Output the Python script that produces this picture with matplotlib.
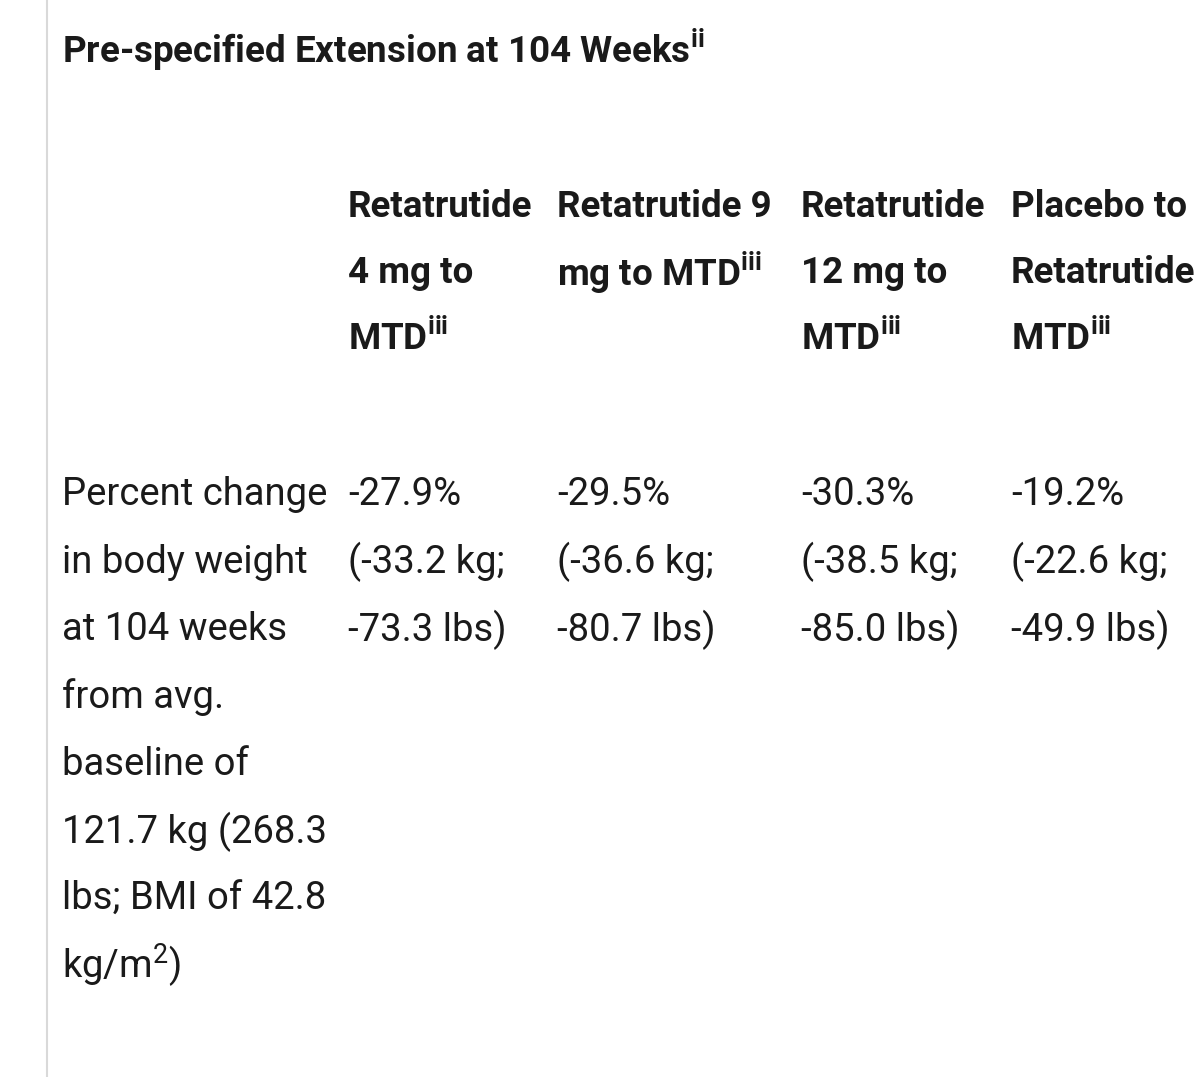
import matplotlib.pyplot as plt

plt.rcParams["font.family"] = ["Roboto", "DejaVu Sans"]
plt.rcParams["mathtext.fontset"] = "custom"
plt.rcParams["mathtext.rm"] = "Roboto"
plt.rcParams["mathtext.bf"] = "Roboto:bold"

W, H = 1200, 1077

title = r"Pre-specified Extension at 104 Weeks$^{\mathbf{ii}}$"

headers = [
    ["Retatrutide", "4 mg to", r"MTD$^{\mathbf{iii}}$"],
    ["Retatrutide 9", r"mg to MTD$^{\mathbf{iii}}$"],
    ["Retatrutide", "12 mg to", r"MTD$^{\mathbf{iii}}$"],
    ["Placebo to", "Retatrutide", r"MTD$^{\mathbf{iii}}$"],
]

row_label = ["Percent change", "in body weight", "at 104 weeks", "from avg.",
             "baseline of", "121.7 kg (268.3", "lbs; BMI of 42.8",
             r"kg/m$^{2}$)"]

pct = ["-27.9%", "-29.5%", "-30.3%", "-19.2%"]
kg = ["-33.2", "-36.6", "-38.5", "-22.6"]
lbs = ["-73.3", "-80.7", "-85.0", "-49.9"]

col_x = [348, 557, 801, 1011]

fig = plt.figure(figsize=(W / 100, H / 100), dpi=100)
fig.patch.set_facecolor("white")


def put(x, y, s, bold=False, size=27.5):
    fig.text(x / W, 1 - y / H, s, fontsize=size, va="center", ha="left",
             color="#1a1a1a", fontweight="bold" if bold else "normal")


# left border
fig.add_artist(plt.Line2D([47 / W, 47 / W], [0, 1], color="#d9d9d9", lw=1.5))

put(62, 50, title, bold=True, size=26.5)

for x, lines in zip(col_x, headers):
    for i, s in enumerate(lines):
        put(x, 207 + i * 66, s, bold=True, size=26.5)

for i, s in enumerate(row_label):
    put(62, 495 + i * 67.3, s)

for x, p, k, l in zip(col_x, pct, kg, lbs):
    put(x, 495, p)
    put(x, 562, f"({k} kg;")
    put(x, 630, f"{l} lbs)")

fig.savefig("out.png", dpi=100)
